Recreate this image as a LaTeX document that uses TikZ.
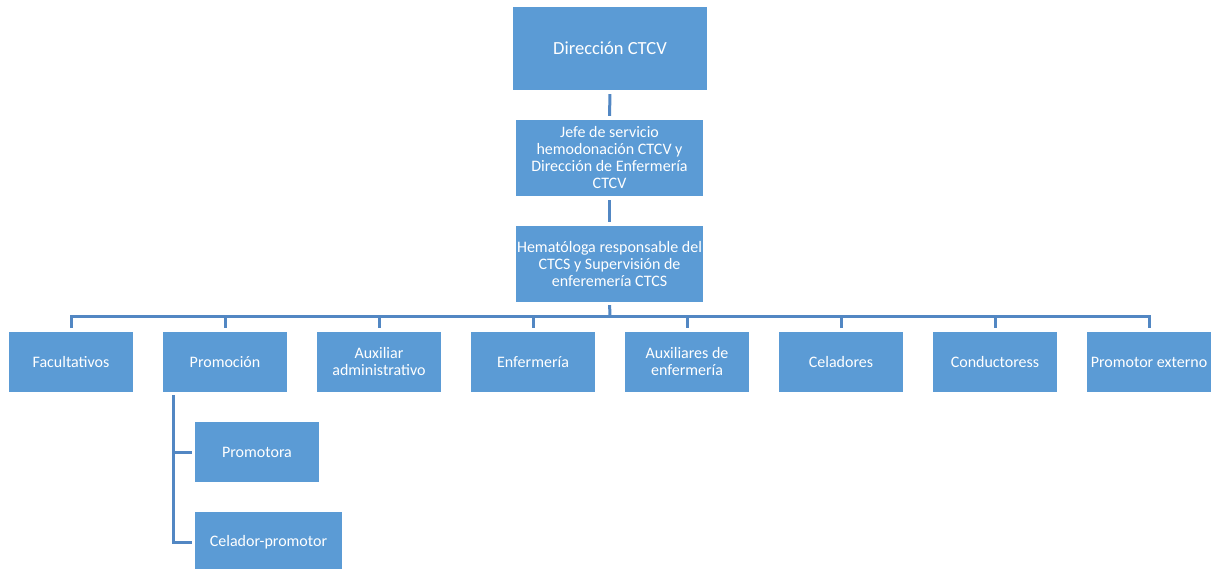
\documentclass[tikz,border=0pt]{standalone}
\usepackage{fontspec}
\setmainfont{Carlito}
\definecolor{boxblue}{RGB}{91,155,213}
\definecolor{lineblue}{RGB}{82,135,195}
\begin{document}
\begin{tikzpicture}[x=1pt,y=-1pt,
  box/.style={fill=boxblue,draw=none,text=white,align=center,inner sep=1pt,
    font=\fontsize{16}{17}\selectfont,minimum width=#1},
  box/.default=124pt,
  conn/.style={draw=lineblue,line width=3pt}]
\useasboundingbox (0,0) rectangle (1215,569);
\clip (0,0) rectangle (1215,569);
\node[box=194pt,minimum height=83pt,font=\fontsize{18.5}{20}\selectfont] (dir) at (610,48.5) {Dirección CTCV};
\node[box=187pt,minimum height=76pt] (jefe) at (609.5,158) {Jefe de servicio\\hemodonación CTCV y\\Dirección de Enfermería\\CTCV};
\node[box=187pt,minimum height=76pt] (hem) at (609.5,264) {Hematóloga responsable del\\CTCS y Supervisión de\\enferemería CTCS};
\foreach \n/\x/\t in {fac/71/Facultativos, pro/225/Promoción, aux/379/{Auxiliar\\administrativo}, enf/533/Enfermería, aen/687/{Auxiliares de\\enfermería}, cel/841/Celadores, con/995/Conductoress, pex/1149/Promotor externo}
  \node[box,minimum height=60pt] (\n) at (\x,362) {\t};
\node[box,minimum height=60pt] (ptra) at (257,452) {Promotora};
\node[box=147pt,minimum height=60pt] (cpro) at (268.5,542) {Celador-promotor};
\coordinate (bus) at (610,316.5);
\draw[conn,shorten <=4pt,shorten >=4pt] (dir.south) -- (jefe.north);
\draw[conn,shorten <=4pt,shorten >=4pt] (jefe.south) -- (hem.north);
\draw[conn,shorten <=3pt] (hem.south) -- (bus);
\foreach \n in {fac,pro,aux,enf,aen,cel,con,pex}
  \draw[conn,shorten >=4pt] (bus) -| (\n.north);
\draw[conn,shorten <=3pt,shorten >=3pt] ([xshift=10.5pt]pro.south west) |- (ptra.west);
\draw[conn,shorten <=3pt,shorten >=3pt] ([xshift=10.5pt]pro.south west) |- (cpro.west);
\end{tikzpicture}
\end{document}
